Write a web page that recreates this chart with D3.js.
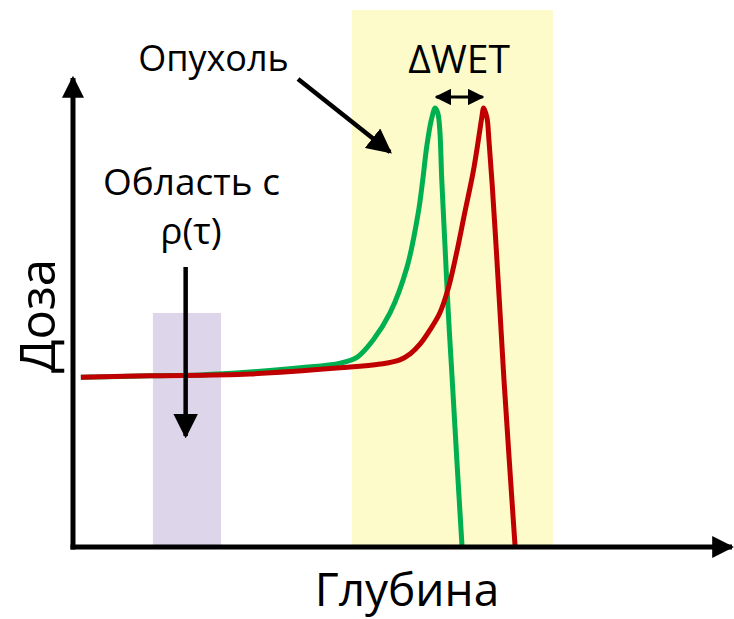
<!DOCTYPE html>
<html>
<head>
<meta charset="utf-8">
<script src="https://cdn.jsdelivr.net/npm/d3@7"></script>
<style>
  html, body { margin: 0; padding: 0; background: #fff; }
  svg { display: block; font-family: "Open Sans", "DejaVu Sans", sans-serif; }
</style>
</head>
<body>
<svg id="chart" width="734" height="619"></svg>
<script>
// Depth-dose curves (arbitrary units): nominal Bragg peak (green) and shifted one (red)
const greenDepth = [1.2, 11.8, 19.4, 27.0, 34.7, 40.8, 43.4, 45.8, 48.4, 51.0, 52.7, 53.4, 54.0, 54.7, 55.3, 55.7, 56.0, 56.3, 56.8, 57.3, 57.9, 58.6, 59.4];
const greenDose  = [36.2, 36.5, 36.7, 37.3, 38.2, 39.2, 40.5, 44.1, 49.9, 59.7, 71.2, 78.3, 85.3, 91.0, 93.6, 92.5, 88.9, 78.3, 64.0, 49.9, 35.6, 18.6, 0];
const redDepth   = [1.2, 11.8, 27.0, 40.8, 46.9, 49.9, 51.5, 53.0, 54.5, 56.0, 57.3, 58.5, 59.8, 61.1, 62.0, 62.4, 62.7, 63.2, 63.5, 64.0, 64.6, 65.2, 65.8, 66.6, 67.5];
const redDose    = [36.2, 36.5, 36.9, 38.2, 39.0, 39.9, 41.2, 43.3, 46.3, 49.9, 55.2, 62.3, 71.2, 80.0, 87.8, 91.5, 93.6, 91.5, 86.8, 77.2, 64.0, 49.9, 35.6, 18.6, 0];

// Shaded regions: tumour and the region with rho(tau)
const tumorSpan = [42.6, 73.3];
const tumorTop  = 114.5;
const rhoSpan   = [12.2, 22.6];
const rhoTop    = 49.9;

// Labels
const yLabel = "Доза";
const xLabel = "Глубина";
const tumorLabel = "Опухоль";
const rhoLabel = ["Область с", "ρ(τ)"];
const shiftLabel = "ΔWET";

const svg = d3.select("#chart");
const x = d3.scaleLinear().domain([0, 100]).range([73, 728]);
const y = d3.scaleLinear().domain([0, 100]).range([547, 78]);

const colGreen = "#00b050", colRed = "#c00000";

// shaded regions
svg.append("rect")
  .attr("x", x(tumorSpan[0])).attr("width", x(tumorSpan[1]) - x(tumorSpan[0]))
  .attr("y", y(tumorTop)).attr("height", y(0) - y(tumorTop))
  .attr("fill", "#fdfbc9");
svg.append("rect")
  .attr("x", x(rhoSpan[0])).attr("width", x(rhoSpan[1]) - x(rhoSpan[0]))
  .attr("y", y(rhoTop)).attr("height", y(0) - y(rhoTop))
  .attr("fill", "#ddd5e9");

// curves
const line = d3.line().x(d => x(d[0])).y(d => y(d[1])).curve(d3.curveCatmullRom.alpha(0.5));
svg.append("path")
  .datum(d3.zip(greenDepth, greenDose))
  .attr("d", line).attr("fill", "none")
  .attr("stroke", colGreen).attr("stroke-width", 5).attr("stroke-linejoin", "round");
svg.append("path")
  .datum(d3.zip(redDepth, redDose))
  .attr("d", line).attr("fill", "none")
  .attr("stroke", colRed).attr("stroke-width", 5).attr("stroke-linejoin", "round");

// arrow heads
const defs = svg.append("defs");
function head(id, size) {
  defs.append("marker").attr("id", id)
    .attr("viewBox", "0 0 10 10").attr("refX", 9).attr("refY", 5)
    .attr("markerWidth", size).attr("markerHeight", size)
    .attr("markerUnits", "strokeWidth")
    .attr("orient", "auto-start-reverse")
    .append("path").attr("d", "M0,0 L10,5 L0,10 Z").attr("fill", "#000");
}
head("ah", 4.4);
head("ahs", 5.5);

// axes
svg.append("line")
  .attr("x1", x(0)).attr("y1", y(0) + 2.5).attr("x2", x(0)).attr("y2", y(100))
  .attr("stroke", "#000").attr("stroke-width", 5).attr("marker-end", "url(#ah)");
svg.append("line")
  .attr("x1", x(0) - 2.5).attr("y1", y(0)).attr("x2", x(100) + 4).attr("y2", y(0))
  .attr("stroke", "#000").attr("stroke-width", 5).attr("marker-end", "url(#ah)");

// axis titles
svg.append("text").text(xLabel)
  .attr("x", 407).attr("y", 606).attr("text-anchor", "middle")
  .attr("font-size", 46).attr("fill", "#000");
svg.append("text").text(yLabel)
  .attr("transform", "translate(55,316) rotate(-90)")
  .attr("text-anchor", "middle").attr("font-size", 49).attr("fill", "#000");

// tumour annotation
svg.append("text").text(tumorLabel)
  .attr("x", 213.5).attr("y", 71).attr("text-anchor", "middle")
  .attr("font-size", 36).attr("fill", "#000");
svg.append("line")
  .attr("x1", 298).attr("y1", 79).attr("x2", 390).attr("y2", 152)
  .attr("stroke", "#000").attr("stroke-width", 4.5).attr("marker-end", "url(#ahs)");

// rho(tau) annotation
svg.append("text").text(rhoLabel[0])
  .attr("x", 191.5).attr("y", 195).attr("text-anchor", "middle")
  .attr("font-size", 37).attr("fill", "#000");
svg.append("text").text(rhoLabel[1])
  .attr("x", 191).attr("y", 244).attr("text-anchor", "middle")
  .attr("font-size", 37).attr("fill", "#000");
svg.append("line")
  .attr("x1", x(17.2)).attr("y1", 267).attr("x2", x(17.2)).attr("y2", 436)
  .attr("stroke", "#000").attr("stroke-width", 4.5).attr("marker-end", "url(#ahs)");

// peak shift annotation
svg.append("text").text(shiftLabel)
  .attr("x", 459).attr("y", 73).attr("text-anchor", "middle")
  .attr("font-size", 39).attr("fill", "#000");
svg.append("line")
  .attr("x1", x(55.3) + 1).attr("y1", 97).attr("x2", x(62.7) - 1).attr("y2", 97)
  .attr("stroke", "#000").attr("stroke-width", 3)
  .attr("marker-start", "url(#ahs)").attr("marker-end", "url(#ahs)");
</script>
</body>
</html>
